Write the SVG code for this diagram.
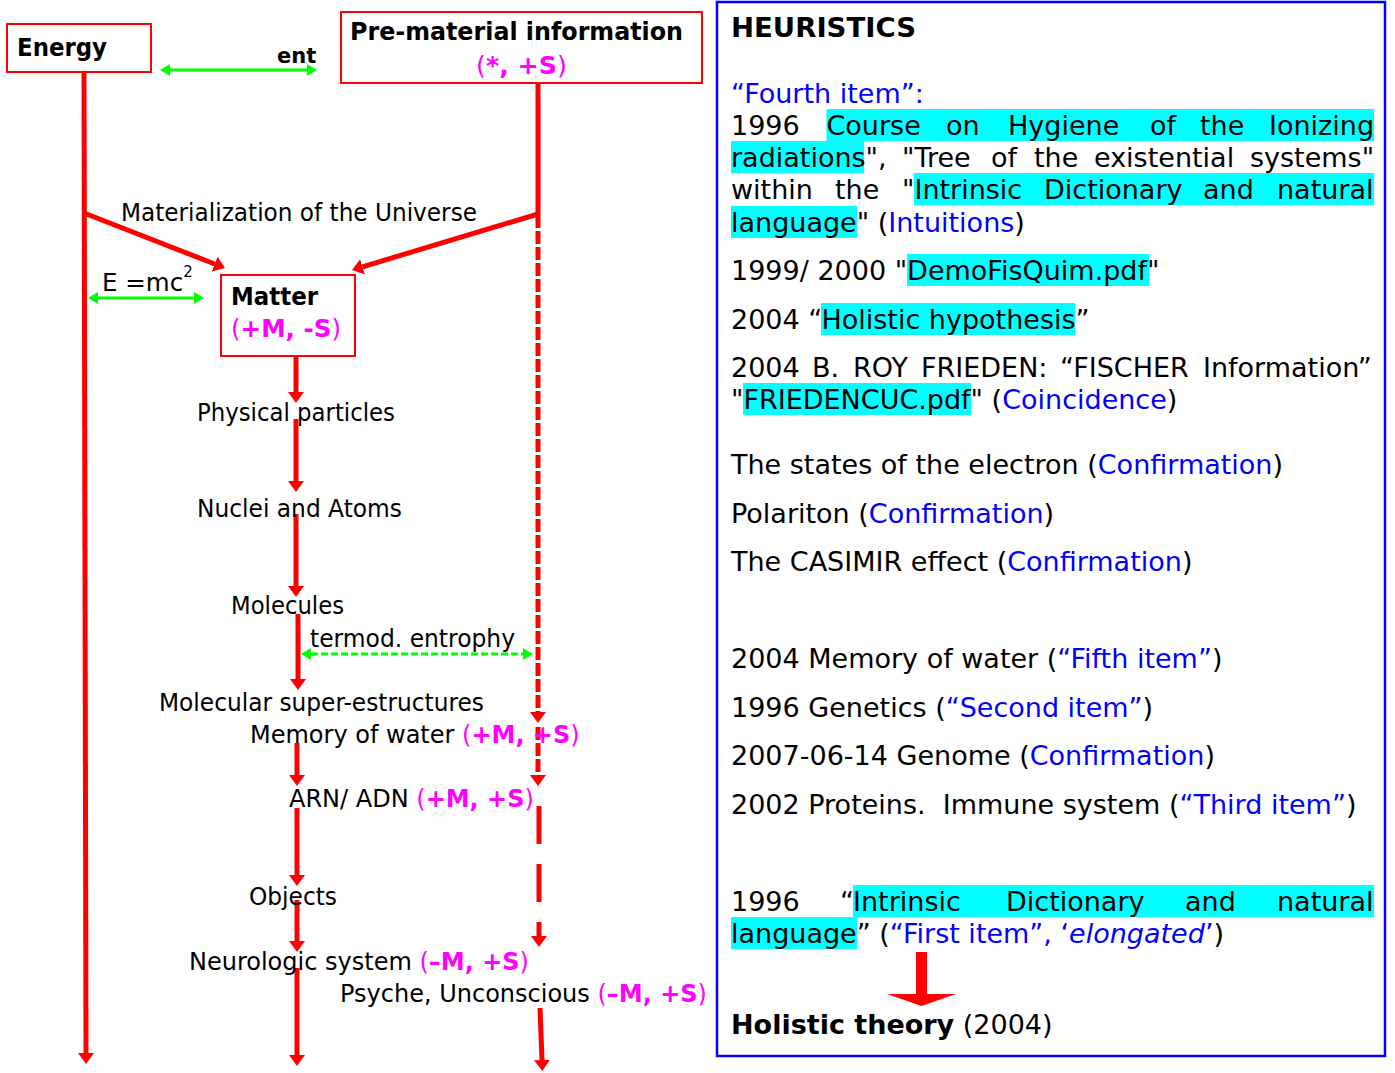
<svg xmlns="http://www.w3.org/2000/svg" width="1395" height="1073" viewBox="0 0 1395 1073">
<style>
text{font-family:'DejaVu Sans',Verdana,sans-serif}
.lbl{font-size:24.5px;fill:#000}
.b{font-weight:bold}
.mag{fill:#FF00FF}
.rp{font-size:27px;fill:#000}
.blue{fill:#0000FF}
.hl{fill:#00FFFF}
.box{fill:#fff;stroke:#FF0000;stroke-width:2}
.red{stroke:#FF0000;stroke-width:5;fill:none}
.redd{stroke:#FF0000;stroke-width:5;fill:none;stroke-dasharray:13 3}
.redl{stroke:#FF0000;stroke-width:5;fill:none;stroke-dasharray:38 20}
.grn{stroke:#00FF00;stroke-width:3;fill:none}
.grnd{stroke:#00FF00;stroke-width:3;fill:none;stroke-dasharray:7 3}
</style>
<defs>
<marker id="ah" viewBox="0 0 11 16" refX="0" refY="8" markerWidth="11" markerHeight="16" markerUnits="userSpaceOnUse" orient="auto"><path d="M0,0 L11,8 L0,16 Z" fill="#FF0000"/></marker>
<marker id="ga" viewBox="0 0 10 12" refX="0" refY="6" markerWidth="10" markerHeight="12" markerUnits="userSpaceOnUse" orient="auto-start-reverse"><path d="M0,0 L10,6 L0,12 Z" fill="#00FF00"/></marker>
</defs>

<g id="connectors">
<line class="red" x1="84" y1="72" x2="86" y2="1053" marker-end="url(#ah)"/>
<line class="red" x1="538" y1="83" x2="538" y2="215"/>
<line class="red" x1="84" y1="213" x2="214.7" y2="264" marker-end="url(#ah)"/>
<line class="red" x1="538" y1="214" x2="362.5" y2="266.8" marker-end="url(#ah)"/>
<line class="redd" x1="538" y1="215" x2="538" y2="712" marker-end="url(#ah)"/>
<line class="redd" x1="538" y1="727" x2="538" y2="775" marker-end="url(#ah)"/>
<line class="redl" x1="539" y1="806" x2="539" y2="936" marker-end="url(#ah)"/>
<line class="red" x1="540" y1="1008" x2="542" y2="1060" marker-end="url(#ah)"/>
<line class="red" x1="296" y1="356" x2="296" y2="392" marker-end="url(#ah)"/>
<line class="red" x1="296" y1="419" x2="296" y2="481" marker-end="url(#ah)"/>
<line class="red" x1="296" y1="514" x2="296" y2="586" marker-end="url(#ah)"/>
<line class="red" x1="298" y1="614" x2="298" y2="679" marker-end="url(#ah)"/>
<line class="red" x1="297" y1="743" x2="297" y2="775" marker-end="url(#ah)"/>
<line class="red" x1="297" y1="808" x2="297" y2="875" marker-end="url(#ah)"/>
<line class="red" x1="297" y1="900" x2="297" y2="941" marker-end="url(#ah)"/>
<line class="red" x1="297" y1="968" x2="297" y2="1055" marker-end="url(#ah)"/>
<line class="grn" x1="170" y1="70" x2="307" y2="70" marker-start="url(#ga)" marker-end="url(#ga)"/>
<line class="grn" x1="98" y1="298" x2="194" y2="298" marker-start="url(#ga)" marker-end="url(#ga)"/>
<line class="grnd" x1="311" y1="654" x2="523" y2="654" marker-start="url(#ga)" marker-end="url(#ga)"/>
<text class="lbl b" x="277" y="63" style="font-size:21px">ent</text>
<text class="lbl" x="121" y="221" textLength="356" lengthAdjust="spacingAndGlyphs">Materialization of the Universe</text>
<text class="lbl" x="102" y="291">E =mc<tspan dy="-14" style="font-size:15px">2</tspan></text>
<text class="lbl" x="310" y="647" textLength="205" lengthAdjust="spacingAndGlyphs">termod. entrophy</text>
</g>

<g id="energy">
<rect class="box" x="7" y="24" width="144" height="48"/>
<text class="lbl b" x="17" y="56" style="font-size:24px" textLength="90" lengthAdjust="spacingAndGlyphs">Energy</text>
</g>

<g id="prematerial">
<rect class="box" x="341" y="12" width="361" height="71"/>
<text class="lbl b" x="350" y="40" style="font-size:24.5px" textLength="333" lengthAdjust="spacingAndGlyphs">Pre-material information</text>
<text class="lbl mag" x="476" y="74" style="font-size:25px" textLength="91" lengthAdjust="spacingAndGlyphs">(<tspan class="b">*, +S</tspan>)</text>
</g>

<g id="matter">
<rect class="box" x="221" y="275" width="134" height="81"/>
<text class="lbl b" x="231" y="305" textLength="87" lengthAdjust="spacingAndGlyphs">Matter</text>
<text class="lbl mag" x="231" y="337" textLength="110" lengthAdjust="spacingAndGlyphs">(<tspan class="b">+M, -S</tspan>)</text>
</g>

<g id="physical-particles">
<text class="lbl" x="197" y="421" textLength="198" lengthAdjust="spacingAndGlyphs">Physical particles</text>
</g>
<g id="nuclei-atoms">
<text class="lbl" x="197" y="517" textLength="205" lengthAdjust="spacingAndGlyphs">Nuclei and Atoms</text>
</g>
<g id="molecules">
<text class="lbl" x="231" y="614" textLength="113" lengthAdjust="spacingAndGlyphs">Molecules</text>
</g>
<g id="super-structures">
<text class="lbl" x="159" y="711" textLength="325" lengthAdjust="spacingAndGlyphs">Molecular super-estructures</text>
</g>
<g id="memory-water">
<text class="lbl" x="250" y="743" style="font-size:24px">Memory of water <tspan class="mag">(<tspan class="b">+M, +S</tspan>)</tspan></text>
</g>
<g id="arn-adn">
<text class="lbl" x="289" y="807" style="font-size:24px">ARN/ ADN <tspan class="mag">(<tspan class="b">+M, +S</tspan>)</tspan></text>
</g>
<g id="objects">
<text class="lbl" x="249" y="905" textLength="88" lengthAdjust="spacingAndGlyphs">Objects</text>
</g>
<g id="neurologic">
<text class="lbl" x="189" y="970" style="font-size:24px">Neurologic system <tspan class="mag">(<tspan class="b">–M, +S</tspan>)</tspan></text>
</g>
<g id="psyche">
<text class="lbl" x="340" y="1002" style="font-size:24px">Psyche, Unconscious <tspan class="mag">(<tspan class="b">–M, +S</tspan>)</tspan></text>
</g>

<g id="heuristics">
<rect x="717" y="2" width="668" height="1054" fill="#fff" stroke="#0000FF" stroke-width="2.5"/>
<rect class="hl" x="826.5" y="109" width="547.5" height="32"/>
<rect class="hl" x="731" y="141" width="133" height="32"/>
<rect class="hl" x="914" y="173" width="460" height="32"/>
<rect class="hl" x="731" y="206" width="126" height="32"/>
<rect class="hl" x="907" y="254" width="242" height="32"/>
<rect class="hl" x="821" y="303" width="254" height="32"/>
<rect class="hl" x="743" y="383" width="228" height="32"/>
<rect class="hl" x="853" y="885" width="521" height="32"/>
<rect class="hl" x="731" y="917" width="126" height="32"/>
<text class="rp b" x="731" y="37" textLength="185" lengthAdjust="spacingAndGlyphs">HEURISTICS</text>
<text class="rp blue" x="731" y="103">“Fourth item”:</text>
<text class="rp" y="135"><tspan x="731">1996</tspan><tspan x="826.5">Course</tspan><tspan x="946">on</tspan><tspan x="1008">Hygiene</tspan><tspan x="1150">of</tspan><tspan x="1200">the</tspan><tspan x="1269">Ionizing</tspan></text>
<text class="rp" y="167"><tspan x="731">radiations",</tspan><tspan x="902">"Tree</tspan><tspan x="991">of</tspan><tspan x="1034">the</tspan><tspan x="1094">existential</tspan><tspan x="1250">systems"</tspan></text>
<text class="rp" y="199"><tspan x="731">within</tspan><tspan x="835">the</tspan><tspan x="902">"Intrinsic</tspan><tspan x="1044">Dictionary</tspan><tspan x="1203">and</tspan><tspan x="1277">natural</tspan></text>
<text class="rp" x="731" y="232">language" (<tspan class="blue">Intuitions</tspan>)</text>
<text class="rp" x="731" y="280">1999/ 2000 "DemoFisQuim.pdf"</text>
<text class="rp" x="731" y="329">2004 “Holistic hypothesis”</text>
<text class="rp" y="377"><tspan x="731">2004</tspan><tspan x="812">B.</tspan><tspan x="853">ROY</tspan><tspan x="921">FRIEDEN:</tspan><tspan x="1060">“FISCHER</tspan><tspan x="1203">Information”</tspan></text>
<text class="rp" x="731" y="409">"FRIEDENCUC.pdf" (<tspan class="blue">Coincidence</tspan>)</text>
<text class="rp" x="731" y="474">The states of the electron (<tspan class="blue">Confirmation</tspan>)</text>
<text class="rp" x="731" y="523">Polariton (<tspan class="blue">Confirmation</tspan>)</text>
<text class="rp" x="731" y="571">The CASIMIR effect (<tspan class="blue">Confirmation</tspan>)</text>
<text class="rp" x="731" y="668">2004 Memory of water (<tspan class="blue">“Fifth item”</tspan>)</text>
<text class="rp" x="731" y="717">1996 Genetics (<tspan class="blue">“Second item”</tspan>)</text>
<text class="rp" x="731" y="765">2007-06-14 Genome (<tspan class="blue">Confirmation</tspan>)</text>
<text class="rp" x="731" y="814" style="white-space:pre">2002 Proteins.  Immune system (<tspan class="blue">“Third item”</tspan>)</text>
<text class="rp" y="911"><tspan x="731">1996</tspan><tspan x="840">“</tspan><tspan x="853">Intrinsic</tspan><tspan x="1006">Dictionary</tspan><tspan x="1185">and</tspan><tspan x="1277">natural</tspan></text>
<text class="rp" x="731" y="943">language” (<tspan class="blue">“First item”, ‘<tspan font-style="italic">elongated</tspan>’</tspan>)</text>
<path d="M916,952 H927 V994 H956 L921.5,1006 L887,994 H916 Z" fill="#FF0000"/>
<text class="rp" x="731" y="1034"><tspan class="b">Holistic theory</tspan> (2004)</text>
</g>
</svg>
